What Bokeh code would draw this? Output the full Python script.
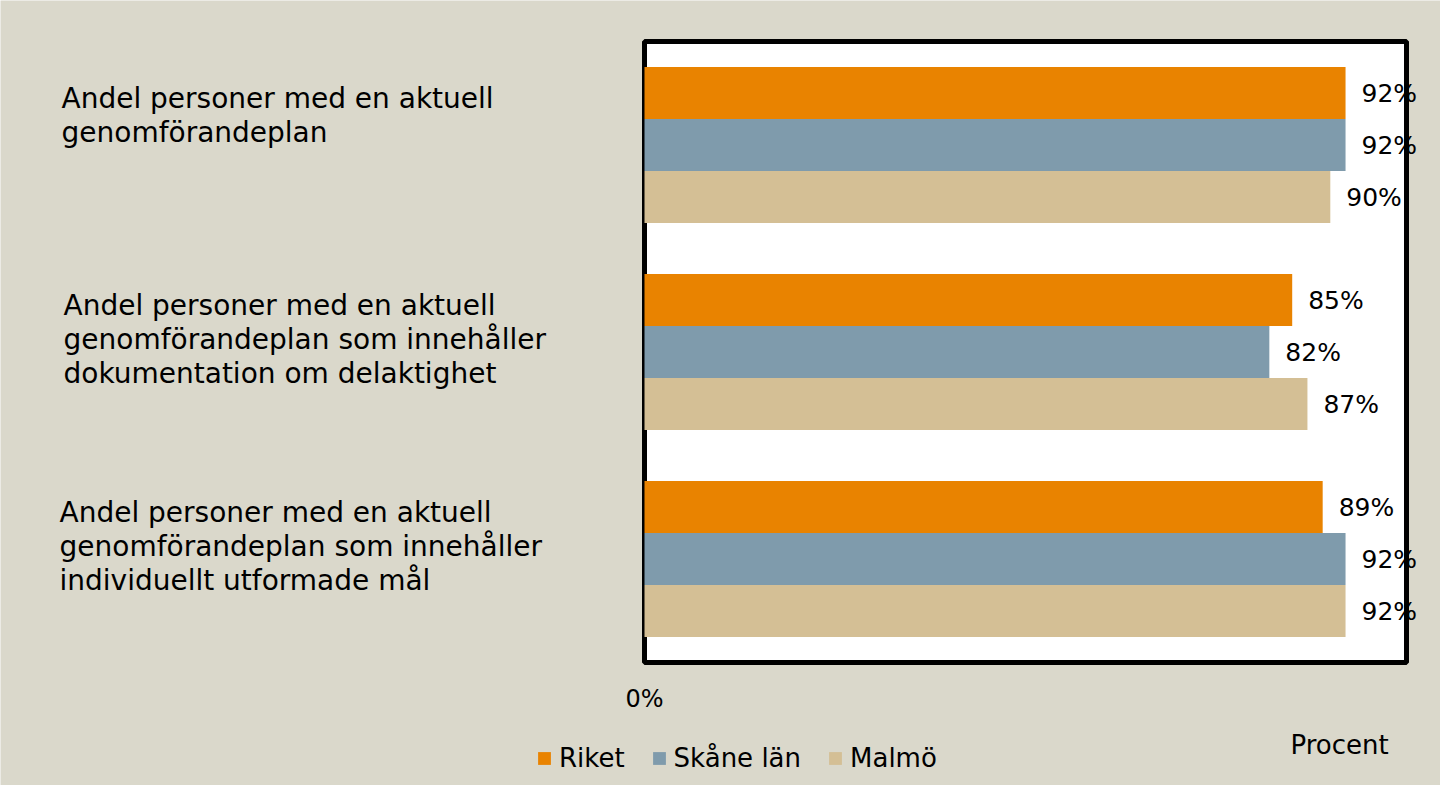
from bokeh.plotting import figure
from bokeh.models import ColumnDataSource, Range1d, LabelSet, Label, BoxAnnotation
from bokeh.core.properties import value
from bokeh.embed import file_html
from bokeh.resources import INLINE

# ---- data ----
categories = [
    ["Andel personer med en aktuell", "genomförandeplan"],
    ["Andel personer med en aktuell", "genomförandeplan som innehåller", "dokumentation om delaktighet"],
    ["Andel personer med en aktuell", "genomförandeplan som innehåller", "individuellt utformade mål"],
]
series_names = ["Riket", "Skåne län", "Malmö"]
riket = [92, 85, 89]
skane = [92, 82, 92]
malmo = [90, 87, 92]
series_values = [riket, skane, malmo]
colors = ["#E98300", "#7F9BAC", "#D4BF95"]
x_tick_label = "0%"
axis_title = "Procent"

# ---- geometry (figure pixels) ----
W, H = 1440, 785
PL, PR, PT, PB = 644, 1406, 41, 662      # plot box edges
XMAX = 100.0
NCAT = len(categories)
sx = (PR - PL) / XMAX                    # px per x unit
sy = (PB - PT) / NCAT                    # px per category

def px2x(px):
    return (px - PL) / sx

def py2y(py):
    return -0.5 + (py - PT) / sy

FONT = "DejaVu Sans"
BG = "#DAD8CB"

p = figure(width=W, height=H, output_backend="svg", toolbar_location=None,
           x_range=Range1d(px2x(0), px2x(W)), y_range=Range1d(py2y(H), py2y(0)),
           x_axis_location=None, y_axis_location=None,
           min_border=0, min_border_left=0, min_border_right=0,
           min_border_top=0, min_border_bottom=0)
p.background_fill_color = BG
p.border_fill_color = BG
p.outline_line_color = None
p.xgrid.visible = False
p.ygrid.visible = False

# white plot box with black frame
p.add_layout(BoxAnnotation(left=0, right=XMAX, top=-0.5, bottom=NCAT - 0.5,
                           fill_color="white", fill_alpha=1.0,
                           line_color="black", line_alpha=1.0, line_width=5,
                           level="underlay"))

bar_h = 52 / sy
offsets = [-bar_h, 0.0, bar_h]
for name, vals, col, off in zip(series_names, series_values, colors, offsets):
    ys = [i + off for i in range(NCAT)]
    src = ColumnDataSource(dict(y=ys, right=vals, txt=[f"{v}%" for v in vals]))
    p.hbar(y="y", left=0, right="right", height=bar_h, source=src,
           fill_color=col, line_color=None, legend_label=name)
    p.add_layout(LabelSet(x="right", y="y", text="txt", source=src, x_offset=16,
                          text_baseline="middle", text_align="left",
                          text_font=value(FONT), text_font_size=value("25px"),
                          text_color=value("black")))

# 0% tick label
p.add_layout(Label(x=0, y=py2y(698), text=x_tick_label, text_font=FONT,
                   text_font_size="24px", text_align="center",
                   text_baseline="alphabetic", text_color="black"))

# category labels (left, multi-line, left aligned)
label_x = [61, 63, 59]
for i, lines in enumerate(categories):
    for k, line in enumerate(lines):
        yb = i + (-47 + 34 * k) / sy
        p.add_layout(Label(x=px2x(label_x[i]), y=yb, text=line,
                           text_font=FONT, text_font_size="28px",
                           text_baseline="alphabetic", text_align="left",
                           text_color="black"))

# axis title
p.add_layout(Label(x=px2x(1290), y=py2y(744), text=axis_title,
                   text_font=FONT, text_font_size="26px",
                   text_baseline="alphabetic", text_align="left", text_color="black"))

# legend
lg = p.legend[0]
lg.orientation = "horizontal"
lg.location = (536, H - 773)
lg.glyph_width = 16
lg.glyph_height = 16
lg.label_standoff = 7
lg.spacing = 26
lg.padding = 0
lg.margin = 0
lg.background_fill_alpha = 0
lg.border_line_color = None
lg.label_text_font = FONT
lg.label_text_font_size = "26px"
lg.label_text_color = "black"

open("out.html", "w").write(file_html(p, INLINE))
